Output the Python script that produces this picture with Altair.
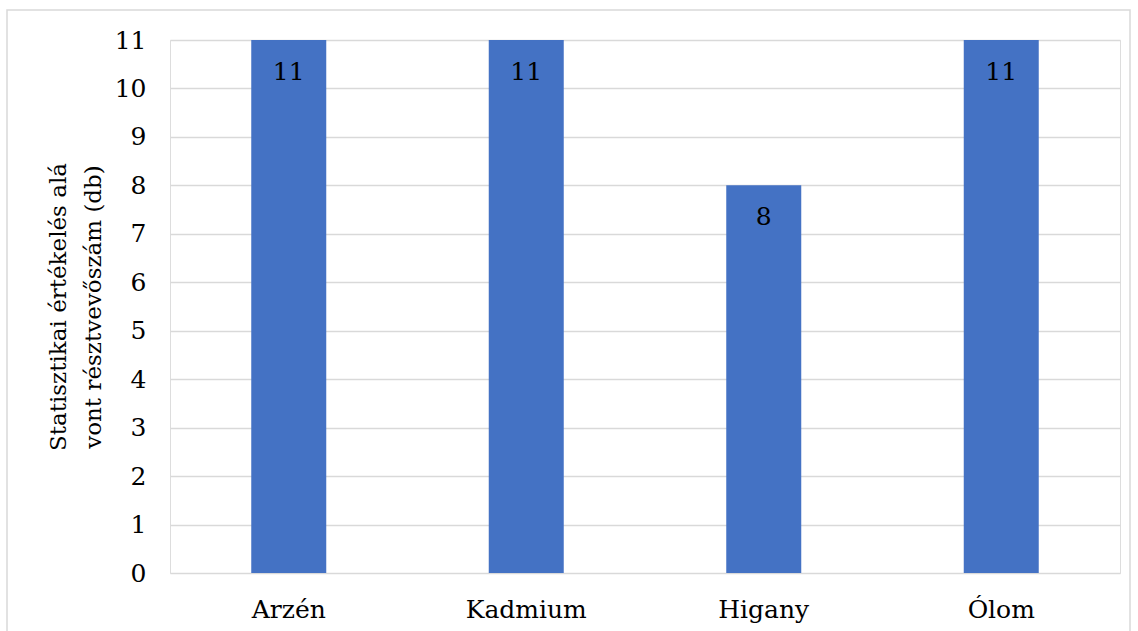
import altair as alt
import pandas as pd

categories = ["Arzén", "Kadmium", "Higany", "Ólom"]
values = [11, 11, 8, 11]
y_ticks = list(range(0, 12))

df = pd.DataFrame({"cat": categories, "val": values})
FONT = "DejaVu Serif"
FS = 25

base = alt.Chart(df)

frame = base.mark_rect(fill=None, stroke="#d9d9d9", strokeWidth=1.5).encode(
    x=alt.value(-163), x2=alt.value(960), y=alt.value(-30), y2=alt.value(601)
).transform_filter(alt.datum.cat == "Arzén")

x_enc = alt.X("cat:N", sort=categories, scale=alt.Scale(paddingInner=0, paddingOuter=0),
              axis=alt.Axis(title=None, labelAngle=0, labelPadding=24, ticks=False, domain=False, grid=False))
y_enc = alt.Y("val:Q", scale=alt.Scale(domain=[0, 11], nice=False),
              axis=alt.Axis(values=y_ticks, title=["Statisztikai értékelés alá", "vont résztvevőszám (db)"],
                            titlePadding=9, titleLineHeight=35, labelPadding=24,
                            ticks=False, domain=False, grid=True, gridColor="#d9d9d9", gridWidth=1.5))

bars = base.mark_bar(color="#4472c4", size=75).encode(x=x_enc, y=y_enc)

labels = base.mark_text(font=FONT, fontSize=FS, color="black", baseline="alphabetic", dy=40).encode(
    x=x_enc, y=y_enc, text=alt.Text("val:Q"),
)

chart = alt.layer(frame, bars, labels).properties(
    width=950, height=533,
    padding={"left": 170, "top": 40, "right": 18, "bottom": 58},
    autosize=alt.AutoSizeParams(type="none"),
).configure_view(stroke=None).configure(background="white", font=FONT).configure_axis(
    labelFont=FONT, labelFontSize=FS, labelColor="black",
    titleFont=FONT, titleFontSize=23, titleFontWeight="normal", titleColor="black",
)

chart.save("out.html", embed_options={"renderer": "svg", "actions": False})
